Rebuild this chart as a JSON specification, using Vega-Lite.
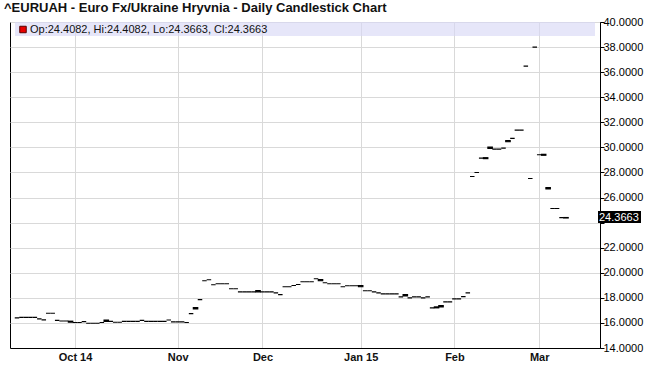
{
  "$schema": "https://vega.github.io/schema/vega-lite/v6.json",
  "autosize": {"type": "none"},
  "width": 590,
  "height": 326,
  "padding": {"left": 10, "top": 22, "right": 51, "bottom": 18},
  "background": "white",
  "title": {
    "text": "^EURUAH - Euro Fx/Ukraine Hryvnia - Daily Candlestick Chart",
    "anchor": "start", "frame": "group", "dx": -6, "dy": 15, "offset": 3, "baseline": "bottom",
    "fontSize": 13, "fontWeight": "bold", "font": "Liberation Sans", "color": "#111111"
  },
  "config": {
    "view": {"stroke": "#000000", "strokeWidth": 1},
    "axis": {"labelFont": "Liberation Sans", "labelFontSize": 11, "labelColor": "#000000", "gridColor": "#d9d9d9", "gridWidth": 1, "domainColor": "#000000", "tickColor": "#000000", "title": null, "labelOverlap": false}
  },
  "data": {"values": [
    {"i":0,"o":16.40,"h":16.40,"l":16.40,"c":16.40},
    {"i":1,"o":16.44,"h":16.44,"l":16.44,"c":16.44},
    {"i":2,"o":16.44,"h":16.44,"l":16.44,"c":16.44},
    {"i":3,"o":16.44,"h":16.44,"l":16.44,"c":16.44},
    {"i":4,"o":16.44,"h":16.44,"l":16.44,"c":16.44},
    {"i":5,"o":16.32,"h":16.32,"l":16.32,"c":16.32},
    {"i":6,"o":16.24,"h":16.24,"l":16.24,"c":16.24},
    {"i":7,"o":16.77,"h":16.77,"l":16.77,"c":16.77},
    {"i":8,"o":16.77,"h":16.77,"l":16.77,"c":16.77},
    {"i":9,"o":16.20,"h":16.20,"l":16.20,"c":16.20},
    {"i":10,"o":16.15,"h":16.15,"l":16.15,"c":16.15},
    {"i":11,"o":16.15,"h":16.15,"l":16.15,"c":16.15},
    {"i":12,"o":16.14,"h":16.14,"l":16.06,"c":16.06},
    {"i":13,"o":16.03,"h":16.03,"l":16.03,"c":16.03},
    {"i":14,"o":16.03,"h":16.03,"l":16.03,"c":16.03},
    {"i":15,"o":16.10,"h":16.10,"l":16.10,"c":16.10},
    {"i":16,"o":15.97,"h":15.97,"l":15.97,"c":15.97},
    {"i":17,"o":15.97,"h":15.97,"l":15.97,"c":15.97},
    {"i":18,"o":15.97,"h":15.97,"l":15.97,"c":15.97},
    {"i":19,"o":16.03,"h":16.03,"l":16.03,"c":16.03},
    {"i":20,"o":16.12,"h":16.22,"l":16.12,"c":16.22},
    {"i":21,"o":16.12,"h":16.12,"l":16.12,"c":16.12},
    {"i":22,"o":16.05,"h":16.05,"l":16.05,"c":16.05},
    {"i":23,"o":16.05,"h":16.05,"l":16.05,"c":16.05},
    {"i":24,"o":16.12,"h":16.12,"l":16.12,"c":16.12},
    {"i":25,"o":16.12,"h":16.12,"l":16.12,"c":16.12},
    {"i":26,"o":16.12,"h":16.12,"l":16.12,"c":16.12},
    {"i":27,"o":16.12,"h":16.12,"l":16.12,"c":16.12},
    {"i":28,"o":16.20,"h":16.20,"l":16.20,"c":16.20},
    {"i":29,"o":16.12,"h":16.12,"l":16.12,"c":16.12},
    {"i":30,"o":16.12,"h":16.12,"l":16.12,"c":16.12},
    {"i":31,"o":16.12,"h":16.12,"l":16.12,"c":16.12},
    {"i":32,"o":16.12,"h":16.12,"l":16.12,"c":16.12},
    {"i":33,"o":16.12,"h":16.12,"l":16.12,"c":16.12},
    {"i":34,"o":16.23,"h":16.23,"l":16.23,"c":16.23},
    {"i":35,"o":16.08,"h":16.08,"l":16.08,"c":16.08},
    {"i":36,"o":16.08,"h":16.08,"l":16.08,"c":16.08},
    {"i":37,"o":16.08,"h":16.08,"l":16.08,"c":16.08},
    {"i":38,"o":16.03,"h":16.03,"l":16.03,"c":16.03},
    {"i":39,"o":16.74,"h":16.74,"l":16.74,"c":16.74},
    {"i":40,"o":17.12,"h":17.22,"l":17.12,"c":17.22},
    {"i":41,"o":17.86,"h":17.86,"l":17.86,"c":17.86},
    {"i":42,"o":19.36,"h":19.36,"l":19.36,"c":19.36},
    {"i":43,"o":19.44,"h":19.44,"l":19.44,"c":19.44},
    {"i":44,"o":19.04,"h":19.04,"l":19.04,"c":19.04},
    {"i":45,"o":19.12,"h":19.12,"l":19.12,"c":19.12},
    {"i":46,"o":19.12,"h":19.12,"l":19.12,"c":19.12},
    {"i":47,"o":19.12,"h":19.12,"l":19.12,"c":19.12},
    {"i":48,"o":18.72,"h":18.72,"l":18.72,"c":18.72},
    {"i":49,"o":18.72,"h":18.72,"l":18.72,"c":18.72},
    {"i":50,"o":18.48,"h":18.48,"l":18.48,"c":18.48},
    {"i":51,"o":18.48,"h":18.48,"l":18.48,"c":18.48},
    {"i":52,"o":18.48,"h":18.48,"l":18.48,"c":18.48},
    {"i":53,"o":18.48,"h":18.48,"l":18.48,"c":18.48},
    {"i":54,"o":18.48,"h":18.58,"l":18.48,"c":18.58},
    {"i":55,"o":18.48,"h":18.48,"l":18.48,"c":18.48},
    {"i":56,"o":18.48,"h":18.48,"l":18.48,"c":18.48},
    {"i":57,"o":18.48,"h":18.48,"l":18.48,"c":18.48},
    {"i":58,"o":18.40,"h":18.40,"l":18.40,"c":18.40},
    {"i":59,"o":18.26,"h":18.26,"l":18.26,"c":18.26},
    {"i":60,"o":18.88,"h":18.88,"l":18.88,"c":18.88},
    {"i":61,"o":18.88,"h":18.88,"l":18.88,"c":18.88},
    {"i":62,"o":18.98,"h":18.98,"l":18.98,"c":18.98},
    {"i":63,"o":19.06,"h":19.06,"l":19.06,"c":19.06},
    {"i":64,"o":19.28,"h":19.28,"l":19.28,"c":19.28},
    {"i":65,"o":19.28,"h":19.28,"l":19.28,"c":19.28},
    {"i":66,"o":19.28,"h":19.28,"l":19.28,"c":19.28},
    {"i":67,"o":19.52,"h":19.52,"l":19.52,"c":19.52},
    {"i":68,"o":19.46,"h":19.46,"l":19.36,"c":19.36},
    {"i":69,"o":19.20,"h":19.20,"l":19.20,"c":19.20},
    {"i":70,"o":19.12,"h":19.12,"l":19.12,"c":19.12},
    {"i":71,"o":19.12,"h":19.12,"l":19.12,"c":19.12},
    {"i":72,"o":19.12,"h":19.12,"l":19.12,"c":19.12},
    {"i":73,"o":18.88,"h":18.88,"l":18.88,"c":18.88},
    {"i":74,"o":18.96,"h":18.96,"l":18.96,"c":18.96},
    {"i":75,"o":18.96,"h":18.96,"l":18.96,"c":18.96},
    {"i":76,"o":18.96,"h":18.96,"l":18.96,"c":18.96},
    {"i":77,"o":18.98,"h":18.98,"l":18.88,"c":18.88},
    {"i":78,"o":18.56,"h":18.56,"l":18.56,"c":18.56},
    {"i":79,"o":18.56,"h":18.56,"l":18.56,"c":18.56},
    {"i":80,"o":18.48,"h":18.48,"l":18.48,"c":18.48},
    {"i":81,"o":18.40,"h":18.40,"l":18.40,"c":18.40},
    {"i":82,"o":18.32,"h":18.32,"l":18.32,"c":18.32},
    {"i":83,"o":18.32,"h":18.32,"l":18.32,"c":18.32},
    {"i":84,"o":18.32,"h":18.32,"l":18.32,"c":18.32},
    {"i":85,"o":18.32,"h":18.32,"l":18.32,"c":18.32},
    {"i":86,"o":18.08,"h":18.08,"l":18.08,"c":18.08},
    {"i":87,"o":18.26,"h":18.26,"l":18.16,"c":18.16},
    {"i":88,"o":18.00,"h":18.00,"l":18.00,"c":18.00},
    {"i":89,"o":18.08,"h":18.08,"l":18.08,"c":18.08},
    {"i":90,"o":18.08,"h":18.08,"l":18.08,"c":18.08},
    {"i":91,"o":18.00,"h":18.00,"l":18.00,"c":18.00},
    {"i":92,"o":18.08,"h":18.08,"l":18.08,"c":18.08},
    {"i":93,"o":17.20,"h":17.20,"l":17.20,"c":17.20},
    {"i":94,"o":17.20,"h":17.28,"l":17.20,"c":17.28},
    {"i":95,"o":17.28,"h":17.38,"l":17.28,"c":17.38},
    {"i":96,"o":17.68,"h":17.68,"l":17.68,"c":17.68},
    {"i":97,"o":17.68,"h":17.68,"l":17.68,"c":17.68},
    {"i":98,"o":17.92,"h":17.92,"l":17.92,"c":17.92},
    {"i":99,"o":17.92,"h":17.92,"l":17.92,"c":17.92},
    {"i":100,"o":18.10,"h":18.10,"l":18.10,"c":18.10},
    {"i":101,"o":18.40,"h":18.40,"l":18.40,"c":18.40},
    {"i":102,"o":27.68,"h":27.68,"l":27.68,"c":27.68},
    {"i":103,"o":28.00,"h":28.00,"l":28.00,"c":28.00},
    {"i":104,"o":29.14,"h":29.14,"l":29.14,"c":29.14},
    {"i":105,"o":29.18,"h":29.18,"l":29.10,"c":29.10},
    {"i":106,"o":30.02,"h":30.02,"l":29.92,"c":29.92},
    {"i":107,"o":29.86,"h":29.86,"l":29.86,"c":29.86},
    {"i":108,"o":29.86,"h":29.86,"l":29.86,"c":29.86},
    {"i":109,"o":29.94,"h":29.94,"l":29.94,"c":29.94},
    {"i":110,"o":30.45,"h":30.55,"l":30.45,"c":30.55},
    {"i":111,"o":30.72,"h":30.72,"l":30.72,"c":30.72},
    {"i":112,"o":31.38,"h":31.38,"l":31.38,"c":31.38},
    {"i":113,"o":31.38,"h":31.38,"l":31.38,"c":31.38},
    {"i":114,"o":36.48,"h":36.48,"l":36.48,"c":36.48},
    {"i":115,"o":27.52,"h":27.52,"l":27.52,"c":27.52},
    {"i":116,"o":38.00,"h":38.00,"l":38.00,"c":38.00},
    {"i":117,"o":29.41,"h":29.41,"l":29.41,"c":29.41},
    {"i":118,"o":29.45,"h":29.45,"l":29.37,"c":29.37},
    {"i":119,"o":26.79,"h":26.79,"l":26.69,"c":26.69},
    {"i":120,"o":25.12,"h":25.12,"l":25.12,"c":25.12},
    {"i":121,"o":25.12,"h":25.12,"l":25.12,"c":25.12},
    {"i":122,"o":24.40,"h":24.40,"l":24.40,"c":24.40},
    {"i":123,"o":24.4082,"h":24.4082,"l":24.3663,"c":24.3663}
  ]},
  "layer": [
    {
      "transform": [{"filter": "datum.i == 123"}],
      "mark": {"type": "rect", "color": "#d7d7f6", "opacity": 0.62, "y2Offset": 14},
      "encoding": {
        "x": {"datum": -0.45, "type": "quantitative", "scale": {"domain": [-0.45, 129.5], "nice": false, "zero": false},
          "axis": {"values": [13, 36, 55, 77, 98, 117], "tickCount": 20, "labelExpr": "datum.value == 13 ? 'Oct 14' : datum.value == 36 ? 'Nov' : datum.value == 55 ? 'Dec' : datum.value == 77 ? 'Jan 15' : datum.value == 98 ? 'Feb' : 'Mar'", "grid": true, "ticks": false, "labelFontWeight": "bold", "labelPadding": 3, "labelColor": "#111111", "labelOverlap": false}},
        "x2": {"datum": 129.5},
        "y": {"datum": 40, "type": "quantitative", "scale": {"domain": [14, 40], "nice": false, "zero": false},
          "axis": {"orient": "right", "values": [14, 16, 18, 20, 22, 24, 26, 28, 30, 32, 34, 36, 38, 40], "tickCount": 20, "labelExpr": "datum.value == 24 ? '' : format(datum.value, '.4f')", "grid": true, "tickSize": 4, "labelPadding": -1, "labelOverlap": false, "labelFlush": false}},
        "y2": {"datum": 40}
      }
    },
    {
      "mark": {"type": "bar", "size": 4.5, "color": "#000000", "stroke": "#000000", "strokeWidth": 1.1},
      "encoding": {
        "x": {"field": "i", "type": "quantitative", "scale": {"domain": [-0.45, 129.5], "nice": false, "zero": false},
          "axis": {"values": [13, 36, 55, 77, 98, 117], "tickCount": 20, "labelExpr": "datum.value == 13 ? 'Oct 14' : datum.value == 36 ? 'Nov' : datum.value == 55 ? 'Dec' : datum.value == 77 ? 'Jan 15' : datum.value == 98 ? 'Feb' : 'Mar'", "grid": true, "ticks": false, "labelFontWeight": "bold", "labelPadding": 3, "labelColor": "#111111", "labelOverlap": false}},
        "y": {"field": "o", "type": "quantitative", "scale": {"domain": [14, 40], "nice": false, "zero": false},
          "axis": {"orient": "right", "values": [14, 16, 18, 20, 22, 24, 26, 28, 30, 32, 34, 36, 38, 40], "tickCount": 20, "labelExpr": "datum.value == 24 ? '' : format(datum.value, '.4f')", "grid": true, "tickSize": 4, "labelPadding": -1, "labelOverlap": false, "labelFlush": false}},
        "y2": {"field": "c"}
      }
    },
    {
      "transform": [{"filter": "datum.i == 123"}],
      "mark": {"type": "square", "size": 42, "fill": "#e80000", "stroke": "#550000", "strokeWidth": 1, "opacity": 1, "xOffset": 8, "yOffset": 7.5},
      "encoding": {
        "x": {"datum": -0.45, "type": "quantitative"},
        "y": {"datum": 40, "type": "quantitative"}
      }
    },
    {
      "transform": [
        {"filter": "datum.i == 123"},
        {"calculate": "'Op:' + format(datum.o, '.4f') + ', Hi:' + format(datum.h, '.4f') + ', Lo:' + format(datum.l, '.4f') + ', Cl:' + format(datum.c, '.4f')", "as": "legendText"}
      ],
      "mark": {"type": "text", "align": "left", "baseline": "middle", "dx": 15, "dy": 7.5, "font": "Liberation Sans", "fontSize": 11, "color": "#111111"},
      "encoding": {
        "x": {"datum": -0.45, "type": "quantitative"},
        "y": {"datum": 40, "type": "quantitative"},
        "text": {"field": "legendText"}
      }
    },
    {
      "transform": [{"filter": "datum.i == 123"}],
      "mark": {"type": "rect", "color": "#000000", "xOffset": 3, "x2Offset": 46, "yOffset": -7, "y2Offset": 5},
      "encoding": {
        "x": {"datum": 129.5, "type": "quantitative"},
        "x2": {"datum": 129.5},
        "y": {"field": "c", "type": "quantitative"},
        "y2": {"field": "c"}
      }
    },
    {
      "transform": [{"filter": "datum.i == 123"}],
      "mark": {"type": "text", "align": "left", "baseline": "middle", "dx": 4, "dy": 0, "font": "Liberation Sans", "fontSize": 11, "color": "#ffffff"},
      "encoding": {
        "x": {"datum": 129.5, "type": "quantitative"},
        "y": {"field": "c", "type": "quantitative"},
        "text": {"field": "c", "format": ".4f"}
      }
    }
  ]
}
